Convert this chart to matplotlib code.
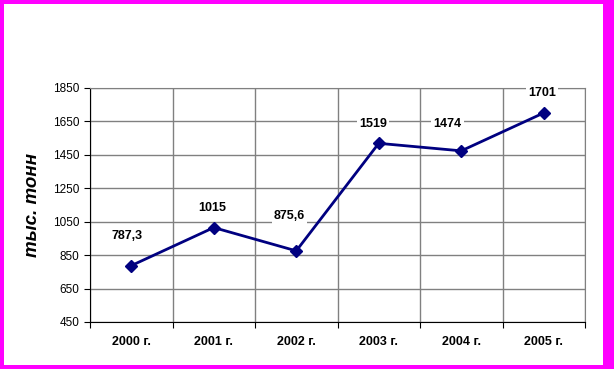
import matplotlib.pyplot as plt
from matplotlib.patches import Rectangle
import numpy as np

plt.rcParams['font.family'] = ['Liberation Sans', 'DejaVu Sans']

years = ["2000 г.", "2001 г.", "2002 г.", "2003 г.", "2004 г.", "2005 г."]
values = [787.3, 1015, 875.6, 1519, 1474, 1701]
value_labels = ["787,3", "1015", "875,6", "1519", "1474", "1701"]
y_ticks = [450, 650, 850, 1050, 1250, 1450, 1650, 1850]

# label offsets in points (Excel-like placement)
label_offsets = [(-3, 21), (-1, 14), (-5, 25), (-4, 14), (-10, 19), (-1, 14)]

W, H = 614, 369
fig = plt.figure(figsize=(W / 100, H / 100), dpi=100)
fig.patch.set_facecolor("#ff00ff")
fig.patches.append(Rectangle((4 / W, 4 / H), 599 / W, 361 / H,
                             transform=fig.transFigure, facecolor="white",
                             edgecolor="none", zorder=-5))

ax = fig.add_axes([90 / W, (H - 322) / H, 495 / W, 234 / H])
ax.set_zorder(2)
x = np.arange(len(years))
ax.plot(x, values, color="#000080", lw=2, marker="D", ms=6.5, zorder=3)

for xi, v, lab, off in zip(x, values, value_labels, label_offsets):
    ax.annotate(lab, (xi, v), xytext=off, textcoords="offset points",
                ha="center", va="center", fontsize=9, fontweight="bold",
                bbox=dict(fc="white", ec="none", pad=1.5))

ax.set_xlim(-0.5, len(years) - 0.5)
ax.set_ylim(450, 1850)
ax.set_yticks(y_ticks)
ax.tick_params(axis="y", labelsize=8.5, length=4, direction="out")

ax.set_xticks(np.arange(-0.5, len(years), 1.0))
ax.set_xticklabels([])
ax.set_xticks(x, minor=True)
ax.set_xticklabels(years, minor=True, fontsize=9, fontweight="bold")
ax.tick_params(axis="x", which="major", length=4, direction="out")
ax.tick_params(axis="x", which="minor", length=0, pad=10)

ax.grid(True, which="major", color="#808080", lw=1)
ax.set_axisbelow(True)
for s in ("top", "right"):
    ax.spines[s].set_color("#808080")
for s in ("left", "bottom"):
    ax.spines[s].set_color("black")

ax.set_ylabel("тыс. тонн", fontsize=13.5, fontweight="bold", style="italic", labelpad=9)

fig.savefig("out.png", dpi=100)
